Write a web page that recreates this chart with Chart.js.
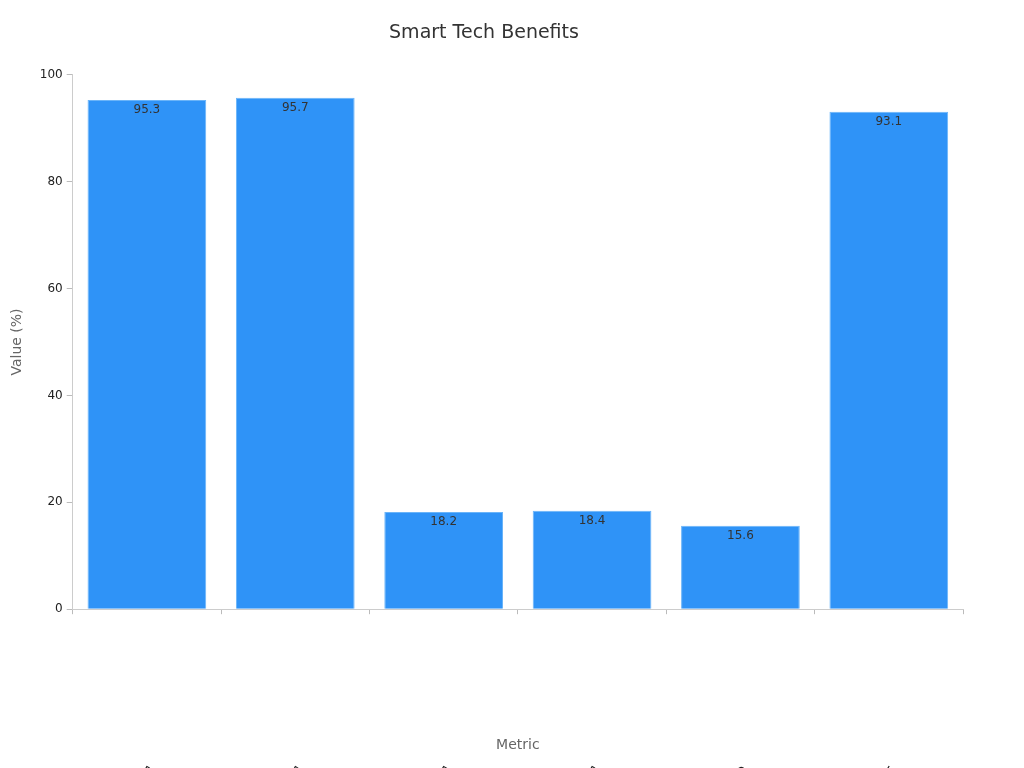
<!DOCTYPE html>
<html>
<head>
<meta charset="utf-8">
<script src="https://cdn.jsdelivr.net/npm/chart.js@4"></script>
<style>body{margin:0;background:#fff}</style>
</head>
<body>
<canvas id="c" width="1024" height="768"></canvas>
<script>
const metrics = ['Prediction rate', 'Data management ratio', 'Energy consumption reduction', 'Probability reduction', 'CO2 emission level reduction', 'Humidity rate'];
const values = [95.3, 95.7, 18.2, 18.4, 15.6, 93.1];
const yTicks = [0, 20, 40, 60, 80, 100];

// draws value labels inside bar tops and the slanted category labels
const labelPlugin = {
  id: 'labels',
  afterDatasetsDraw(chart) {
    const ctx = chart.ctx;
    const meta = chart.getDatasetMeta(0);
    ctx.save();
    ctx.font = '12px "DejaVu Sans"';
    ctx.fillStyle = '#333';
    ctx.textAlign = 'center';
    ctx.textBaseline = 'top';
    meta.data.forEach((bar, i) => ctx.fillText(values[i].toFixed(1), bar.x, bar.y + 4));
    const xs = chart.scales.x;
    ctx.fillStyle = '#222';
    ctx.textAlign = 'left';
    ctx.textBaseline = 'middle';
    metrics.forEach((m, i) => {
      ctx.save();
      ctx.translate(xs.getPixelForTick(i) - 4, xs.bottom + 12);
      ctx.rotate(Math.PI / 6);
      ctx.fillText(m, 0, 0);
      ctx.restore();
    });
    ctx.restore();
  }
};

new Chart(document.getElementById('c'), {
  type: 'bar',
  data: { labels: metrics, datasets: [{ data: values, backgroundColor: '#2f93f7', borderColor: '#6ab4f9', borderWidth: 1, barPercentage: 0.8, categoryPercentage: 1 }] },
  options: {
    responsive: false, animation: false,
    layout: { padding: { left: 5, right: 61, top: 10, bottom: 10 } },
    plugins: {
      legend: { display: false }, tooltip: { enabled: false },
      title: { display: true, text: 'Smart Tech Benefits', color: '#333', font: { family: 'DejaVu Sans', size: 19, weight: 'normal' }, padding: { top: 12, bottom: 30 } }
    },
    scales: {
      x: {
        grid: { drawOnChartArea: false, tickLength: 5, color: '#bbb' },
        border: { color: '#ccc' },
        ticks: { display: false },
        title: { display: true, text: 'Metric', color: '#666', font: { family: 'DejaVu Sans', size: 14 }, padding: { top: 123 } }
      },
      y: {
        min: 0, max: 100,
        afterBuildTicks: s => { s.ticks = yTicks.map(v => ({ value: v })); },
        grid: { drawOnChartArea: false, tickLength: 6, color: '#bbb' },
        border: { color: '#ccc' },
        ticks: { color: '#222', font: { family: 'DejaVu Sans', size: 12 }, padding: 4 },
        title: { display: true, text: 'Value (%)', color: '#666', font: { family: 'DejaVu Sans', size: 14 }, padding: { bottom: 10 } }
      }
    }
  },
  plugins: [labelPlugin]
});
</script>
</body>
</html>
